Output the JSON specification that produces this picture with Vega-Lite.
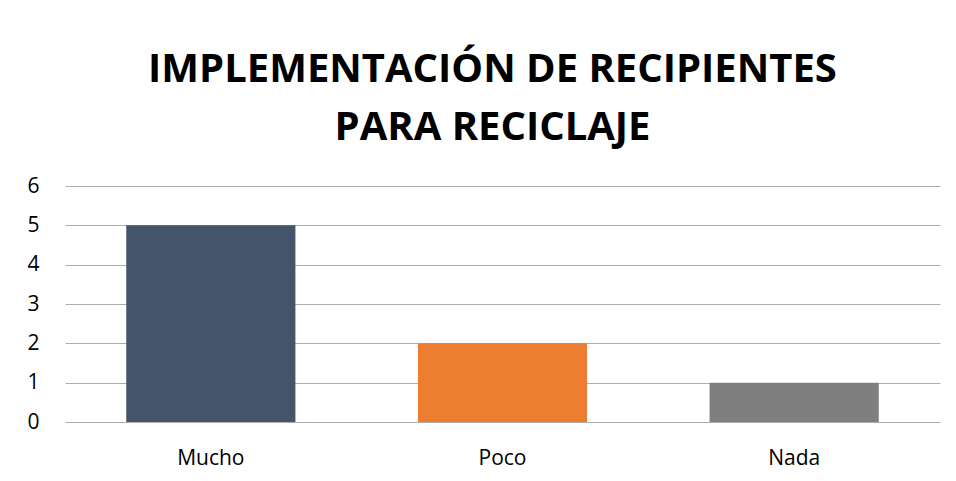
{
  "$schema": "https://vega.github.io/schema/vega-lite/v6.json",
  "autosize": {"type": "none"},
  "width": 875,
  "height": 236,
  "padding": {"left": 65, "top": 186, "right": 16, "bottom": 59},
  "background": "white",
  "title": {
    "text": ["IMPLEMENTACIÓN DE RECIPIENTES", "PARA RECICLAJE"],
    "font": "Open Sans",
    "fontSize": 40,
    "fontWeight": "bold",
    "color": "#000000",
    "lineHeight": 58,
    "anchor": "middle",
    "dx": -10,
    "offset": 27
  },
  "data": {
    "values": [
      {"categoria": "Mucho", "valor": 5},
      {"categoria": "Poco", "valor": 2},
      {"categoria": "Nada", "valor": 1}
    ]
  },
  "mark": {"type": "bar"},
  "encoding": {
    "x": {
      "field": "categoria",
      "type": "nominal",
      "sort": null,
      "scale": {"paddingInner": 0.42, "paddingOuter": 0.21},
      "axis": {
        "title": null,
        "labelAngle": 0,
        "labelFont": "Open Sans",
        "labelFontSize": 21,
        "labelColor": "#000000",
        "labelPadding": 25,
        "ticks": false,
        "domain": false,
        "grid": false
      }
    },
    "y": {
      "field": "valor",
      "type": "quantitative",
      "scale": {"domain": [0, 6]},
      "axis": {
        "title": null,
        "values": [0, 1, 2, 3, 4, 5, 6],
        "labelOverlap": false,
        "labelFont": "Open Sans",
        "labelFontSize": 21,
        "labelColor": "#000000",
        "labelPadding": 26,
        "ticks": false,
        "domain": false,
        "grid": true,
        "gridColor": "#ADADAD",
        "gridWidth": 1
      }
    },
    "color": {
      "field": "categoria",
      "type": "nominal",
      "sort": null,
      "scale": {"domain": ["Mucho", "Poco", "Nada"], "range": ["#44546A", "#ED7D31", "#7F7F7F"]},
      "legend": null
    }
  },
  "config": {"view": {"stroke": null}}
}
